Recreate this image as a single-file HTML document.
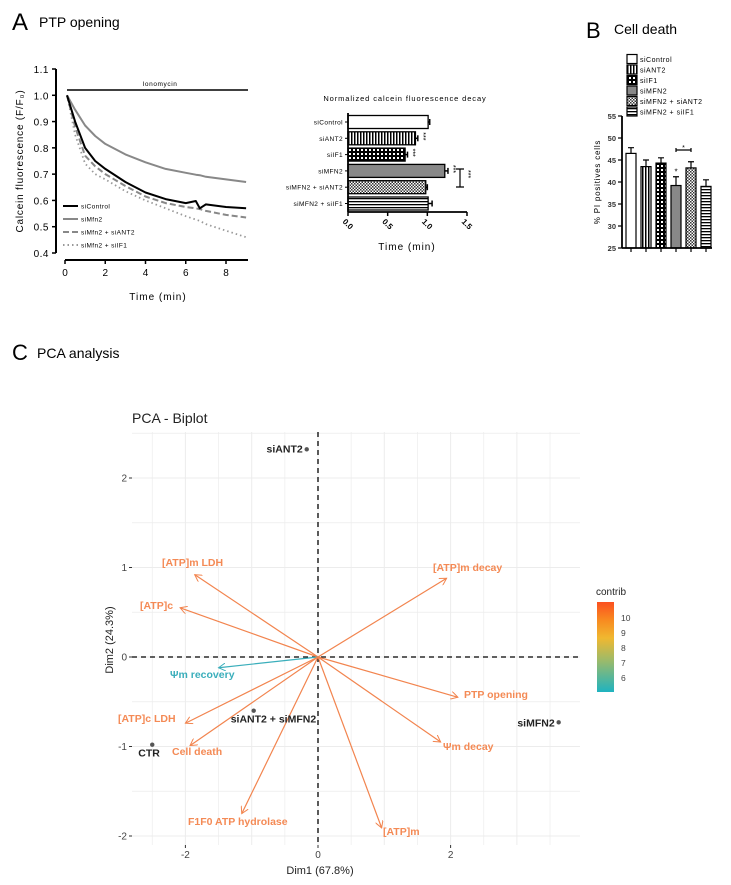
<!DOCTYPE html>
<html><head><meta charset="utf-8"><style>
body{margin:0;background:#fff;}
svg{display:block;font-family:"Liberation Sans",sans-serif;}
</style></head><body>
<svg id="s" width="731" height="885" viewBox="0 0 731 885">
<defs>
<pattern id="pv" width="3" height="4" patternUnits="userSpaceOnUse"><rect width="3" height="4" fill="#fff"/><rect width="1.5" height="4" fill="#000"/></pattern>
<pattern id="pg" width="4" height="4" patternUnits="userSpaceOnUse"><rect width="4" height="4" fill="#000"/><rect x="1" y="1" width="2" height="2" fill="#fff"/></pattern>
<pattern id="pc" width="3" height="3" patternUnits="userSpaceOnUse"><rect width="3" height="3" fill="#fff"/><rect width="1.5" height="1.5" fill="#333"/><rect x="1.5" y="1.5" width="1.5" height="1.5" fill="#333"/></pattern>
<pattern id="ph" width="4" height="3" patternUnits="userSpaceOnUse"><rect width="4" height="3" fill="#fff"/><rect width="4" height="1.3" fill="#000"/></pattern>
<linearGradient id="cg" x1="0" y1="1" x2="0" y2="0"><stop offset="0" stop-color="#1fb3c0"/><stop offset="0.35" stop-color="#9cba6a"/><stop offset="0.6" stop-color="#f0b830"/><stop offset="0.8" stop-color="#f88a20"/><stop offset="1" stop-color="#fb5020"/></linearGradient>
<marker id="ao" markerWidth="8" markerHeight="8" refX="7" refY="4" orient="auto" markerUnits="userSpaceOnUse"><path d="M0,0 L7,4 L0,8" fill="none" stroke="#f2844e" stroke-width="1"/></marker>
<marker id="at" markerWidth="8" markerHeight="8" refX="7" refY="4" orient="auto" markerUnits="userSpaceOnUse"><path d="M0,0 L7,4 L0,8" fill="none" stroke="#3aaebb" stroke-width="1"/></marker>
</defs>
<text x="12" y="30" font-size="24">A</text>
<text x="39" y="27" font-size="14">PTP opening</text>
<text x="586" y="38" font-size="22">B</text>
<text x="614" y="34" font-size="14">Cell death</text>
<text x="12" y="360" font-size="22">C</text>
<text x="37" y="358" font-size="14">PCA analysis</text>
<g id="lineChart"></g>
<g id="barChart"></g>
<g id="cellChart"></g>
<g id="pca"></g>
</svg>
<script>
// ---- Line chart data ----
const lcTimes=[0.1,0.5,1,1.5,2,3,4,5,6,6.5,6.7,7,8,9];
const lcControl=[1.0,0.9,0.8,0.75,0.72,0.67,0.63,0.605,0.59,0.598,0.57,0.585,0.575,0.57];
const lcMfn2=[1.0,0.945,0.885,0.845,0.815,0.775,0.745,0.72,0.705,0.698,0.696,0.69,0.68,0.67];
const lcAnt2=[1.0,0.88,0.77,0.73,0.70,0.655,0.615,0.59,0.575,0.57,0.567,0.56,0.545,0.535];
const lcIf1=[1.0,0.85,0.74,0.70,0.68,0.635,0.60,0.57,0.54,0.527,0.522,0.51,0.485,0.46];
const lcYTicks=[0.4,0.5,0.6,0.7,0.8,0.9,1.0,1.1];
const lcXTicks=[0,2,4,6,8];
// ---- Bar chart data ----
const bcCats=["siControl","siANT2","siIF1","siMFN2","siMFN2 + siANT2","siMFN2 + siIF1"];
const bcVals=[1.01,0.85,0.72,1.22,0.98,1.01];
const bcErr=[0.02,0.03,0.03,0.04,0.02,0.05];
const bcTicks=[0.0,0.5,1.0,1.5];
// ---- Cell death data ----
const cdCats=["siControl","siANT2","siIF1","siMFN2","siMFN2 + siANT2","siMFN2 + siIF1"];
const cdVals=[46.5,43.5,44.3,39.2,43.2,39.0];
const cdErr=[1.3,1.5,1.2,2.0,1.4,1.5];
const cdTicks=[25,30,35,40,45,50,55];
// ---- PCA data ----
const pcaInd=["siANT2","siMFN2","CTR","siANT2 + siMFN2"];
const pcaIndX=[-0.17,3.63,-2.5,-0.97];
const pcaIndY=[2.32,-0.73,-0.98,-0.6];
const pcaVar=["[ATP]m LDH","[ATP]c","[ATP]m decay","Ψm recovery","PTP opening","[ATP]c LDH","Cell death","Ψm decay","F1F0 ATP hydrolase","[ATP]m"];
const pcaVarX=[-1.86,-2.08,1.94,-1.5,2.11,-2.0,-1.93,1.85,-1.15,0.96];
const pcaVarY=[0.92,0.55,0.88,-0.12,-0.45,-0.74,-0.99,-0.95,-1.75,-1.91];
const pcaContrib=[9.5,9.3,10,5.5,9.8,9.6,9.7,9.5,9.4,9.6];
const pcaTicksX=[-2,0,2];
const pcaTicksY=[-2,-1,0,1,2];

const NS="http://www.w3.org/2000/svg";
function mk(parent,tag,attrs,txt){const e=document.createElementNS(NS,tag);for(const k in attrs)e.setAttribute(k,attrs[k]);if(txt!==undefined)e.textContent=txt;parent.appendChild(e);return e;}

// ===== Line chart =====
(function(){
const g=document.getElementById('lineChart');
const x=t=>65+t*(226-65)/8, y=v=>253-(v-0.4)*(253-69)/0.7;
let e=mk(g,'line',{x1:56,y1:69,x2:56,y2:253,stroke:'#000','stroke-width':2});

e=mk(g,'line',{x1:65,y1:260,x2:248,y2:260,stroke:'#000','stroke-width':2});

lcYTicks.forEach(v=>{mk(g,'line',{x1:52,y1:y(v),x2:56,y2:y(v),stroke:'#000','stroke-width':1.5});
 e=mk(g,'text',{x:49,y:y(v)+4,'font-size':10,'text-anchor':'end','letter-spacing':'0.5'},v.toFixed(1));
 });
lcXTicks.forEach(v=>{mk(g,'line',{x1:x(v),y1:260,x2:x(v),y2:264,stroke:'#000','stroke-width':1.5});
 e=mk(g,'text',{x:x(v),y:276,'font-size':10,'text-anchor':'middle'},v);
 });
e=mk(g,'text',{x:158,y:300,'font-size':10,'text-anchor':'middle','letter-spacing':'1'},'Time (min)');

e=mk(g,'text',{x:0,y:0,'font-size':10,'text-anchor':'middle','letter-spacing':'0.8',transform:'translate(23,161) rotate(-90)'},'Calcein fluorescence (F/F₀)');

mk(g,'line',{x1:67,y1:90,x2:248,y2:90,stroke:'#000','stroke-width':1.5});
e=mk(g,'text',{x:160,y:86,'font-size':6.5,'text-anchor':'middle','letter-spacing':'0.6'},'Ionomycin');

const series=[[lcMfn2,'#888',2,'','simfn2-line'],[lcIf1,'#999',1.8,'1.5 3','simfn2-siif1-line'],[lcAnt2,'#888',2,'6 3','simfn2-siant2-line'],[lcControl,'#000',2,'','sicontrol-line']];
series.forEach(s=>{const d=s[0].map((v,i)=>(i?'L':'M')+x(lcTimes[i]).toFixed(1)+','+y(v).toFixed(1)).join(' ');
 e=mk(g,'path',{d:d,fill:'none',stroke:s[1],'stroke-width':s[2],'stroke-dasharray':s[3],'stroke-linejoin':'round'});
 });
const leg=[['siControl','#000',''],['siMfn2','#888',''],['siMfn2 + siANT2','#888','6 3'],['siMfn2 + siIF1','#999','1.5 3']];
leg.forEach((l,i)=>{const yy=206+i*13;mk(g,'line',{x1:63,y1:yy,x2:78,y2:yy,stroke:l[1],'stroke-width':2,'stroke-dasharray':l[2]});
 e=mk(g,'text',{x:81,y:yy+2.5,'font-size':6.5,'letter-spacing':'0.4'},l[0]);
 });
})();

// ===== Bar chart =====
(function(){
const g=document.getElementById('barChart');
const x=v=>348+v*(467-348)/1.5, yc=i=>122+i*16.3;
let e=mk(g,'text',{x:405,y:101,'font-size':7.5,'text-anchor':'middle','letter-spacing':'0.9'},'Normalized calcein fluorescence decay');

const fills=['#fff','url(#pv)','url(#pg)','#888','url(#pc)','url(#ph)'];
bcCats.forEach((c,i)=>{
 e=mk(g,'rect',{x:348,y:yc(i)-6.5,width:x(bcVals[i])-348,height:13,fill:fills[i],stroke:'#000','stroke-width':1.3});
 
 mk(g,'line',{x1:x(bcVals[i]),y1:yc(i),x2:x(bcVals[i]+bcErr[i]),y2:yc(i),stroke:'#000','stroke-width':1.5});
 mk(g,'line',{x1:x(bcVals[i]+bcErr[i]),y1:yc(i)-3,x2:x(bcVals[i]+bcErr[i]),y2:yc(i)+3,stroke:'#000','stroke-width':1.5});
 mk(g,'line',{x1:345,y1:yc(i),x2:348,y2:yc(i),stroke:'#000'});
 e=mk(g,'text',{x:343,y:yc(i)+2.5,'font-size':6.5,'text-anchor':'end','letter-spacing':'0.4'},c);
 
});
[1,2,3].forEach(i=>{e=mk(g,'text',{x:0,y:0,'font-size':7,transform:'translate('+(x(bcVals[i]+bcErr[i])+3)+','+(yc(i)-6)+') rotate(90)'},'***');
 });
mk(g,'path',{d:'M456,169 H464 M460,169 V187 M456,187 H464',stroke:'#000',fill:'none','stroke-width':1.2});
e=mk(g,'text',{x:0,y:0,'font-size':7,transform:'translate(466,170) rotate(90)'},'***');

mk(g,'line',{x1:348,y1:113,x2:348,y2:212,stroke:'#000','stroke-width':1.8});
mk(g,'line',{x1:348,y1:212,x2:467,y2:212,stroke:'#000','stroke-width':1.8});
bcTicks.forEach(v=>{mk(g,'line',{x1:x(v),y1:212,x2:x(v),y2:216,stroke:'#000','stroke-width':1.5});
 e=mk(g,'text',{x:0,y:0,'font-size':8,'font-weight':'bold','text-anchor':'middle',transform:'translate('+(x(v)-2)+',226) rotate(45)'},v.toFixed(1));
 });
e=mk(g,'text',{x:407,y:250,'font-size':10,'text-anchor':'middle','letter-spacing':'1'},'Time (min)');

})();

// ===== Cell death =====
(function(){
const g=document.getElementById('cellChart');
const y=v=>248-(v-25)*(248-116)/30, xc=i=>631+i*15;
const fills=['#fff','url(#pv)','url(#pg)','#888','url(#pc)','url(#ph)'];
cdCats.forEach((c,i)=>{const ly=59+i*10.5;
 mk(g,'rect',{x:627,y:ly-4.5,width:10,height:9,fill:fills[i],stroke:'#000','stroke-width':1.2});
 let e=mk(g,'text',{x:640,y:ly+3,'font-size':7,'letter-spacing':'0.5'},c);
 
 e=mk(g,'rect',{x:xc(i)-5,y:y(cdVals[i]),width:10,height:248-y(cdVals[i]),fill:fills[i],stroke:'#000','stroke-width':1.2});
 
 mk(g,'path',{d:'M'+xc(i)+','+y(cdVals[i])+' V'+y(cdVals[i]+cdErr[i])+' M'+(xc(i)-3)+','+y(cdVals[i]+cdErr[i])+' H'+(xc(i)+3),stroke:'#000','stroke-width':1.2,fill:'none'});
 mk(g,'line',{x1:xc(i),y1:248,x2:xc(i),y2:252,stroke:'#000','stroke-width':1.2});
});
mk(g,'text',{x:xc(3),y:y(cdVals[3]+cdErr[3])-2,'font-size':8,'text-anchor':'middle'},'*');
mk(g,'path',{d:'M'+xc(3)+',148 V152 M'+xc(3)+',150 H'+xc(4)+' M'+xc(4)+',148 V152',stroke:'#000','stroke-width':1.2,fill:'none'});
mk(g,'text',{x:(xc(3)+xc(4))/2,y:150,'font-size':7,'text-anchor':'middle'},'*');
mk(g,'line',{x1:622,y1:116,x2:622,y2:248,stroke:'#000','stroke-width':1.8});
mk(g,'line',{x1:622,y1:248,x2:712,y2:248,stroke:'#000','stroke-width':1.8});
cdTicks.forEach(v=>{mk(g,'line',{x1:618,y1:y(v),x2:622,y2:y(v),stroke:'#000','stroke-width':1.2});
 let e=mk(g,'text',{x:616,y:y(v)+3,'font-size':7.5,'font-weight':'bold','text-anchor':'end','fill':'#333'},v);
 });
let e=mk(g,'text',{x:0,y:0,'font-size':8,'text-anchor':'middle','letter-spacing':'0.8',transform:'translate(600,182) rotate(-90)'},'% PI positives cells');

})();

// ===== PCA =====
(function(){
const g=document.getElementById('pca');
const x=v=>318+v*66.3, y=v=>657-v*89.5;
let e=mk(g,'text',{x:132,y:423,'font-size':14,fill:'#222'},'PCA - Biplot');

for(let v=-3;v<=3.5;v+=0.5){const px=x(v);if(px>132&&px<580)mk(g,'line',{x1:px,y1:432,x2:px,y2:845,stroke:'#ececec','stroke-width':Number.isInteger(v)?1:0.7});}
for(let v=-2.5;v<=2.5;v+=0.5){const py=y(v);if(py>432&&py<845)mk(g,'line',{x1:132,y1:py,x2:580,y2:py,stroke:'#ececec','stroke-width':Number.isInteger(v)?1:0.7});}
mk(g,'line',{x1:132,y1:y(0),x2:580,y2:y(0),stroke:'#000','stroke-width':1.3,'stroke-dasharray':'5 4'});
mk(g,'line',{x1:x(0),y1:432,x2:x(0),y2:845,stroke:'#000','stroke-width':1.3,'stroke-dasharray':'5 4'});
pcaTicksX.forEach(v=>{mk(g,'line',{x1:x(v),y1:845,x2:x(v),y2:848,stroke:'#333'});
 e=mk(g,'text',{x:x(v),y:858,'font-size':10,'text-anchor':'middle',fill:'#444'},v);
 });
pcaTicksY.forEach(v=>{mk(g,'line',{x1:129,y1:y(v),x2:132,y2:y(v),stroke:'#333'});
 e=mk(g,'text',{x:127,y:y(v)+3.5,'font-size':10,'text-anchor':'end',fill:'#444'},v);
 });
e=mk(g,'text',{x:320,y:874,'font-size':11,'text-anchor':'middle',fill:'#222'},'Dim1 (67.8%)');

e=mk(g,'text',{x:0,y:0,'font-size':11,'text-anchor':'middle',fill:'#222',transform:'translate(113,640) rotate(-90)'},'Dim2 (24.3%)');

const lab=[[162,566,'start'],[140,609,'start'],[433,571,'start'],[170,678,'start'],[464,698,'start'],[118,722,'start'],[172,755,'start'],[443,750,'start'],[188,825,'start'],[383,835,'start']];
pcaVar.forEach((n,i)=>{const teal=pcaContrib[i]<7;const col=teal?'#3aaebb':'#f2844e';
 e=mk(g,'line',{x1:x(0),y1:y(0),x2:x(pcaVarX[i]),y2:y(pcaVarY[i]),stroke:col,'stroke-width':1.2,'marker-end':teal?'url(#at)':'url(#ao)'});
 
 e=mk(g,'text',{x:lab[i][0],y:lab[i][1],'font-size':10.5,'font-weight':'bold',fill:teal?'#3aaebb':'#f48a55'},n);
 });
const il=[[-4,3,'end'],[-4,4,'end'],[-14,12,'start'],[-23,12,'start']];
pcaInd.forEach((n,i)=>{e=mk(g,'circle',{cx:x(pcaIndX[i]),cy:y(pcaIndY[i]),r:2.2,fill:'#555'});
 
 e=mk(g,'text',{x:x(pcaIndX[i])+il[i][0],y:y(pcaIndY[i])+il[i][1],'font-size':10.5,'font-weight':'bold','text-anchor':il[i][2],fill:'#222'},n);
 });
e=mk(g,'text',{x:596,y:595,'font-size':10,fill:'#222'},'contrib');

e=mk(g,'rect',{x:597,y:602,width:17,height:90,fill:'url(#cg)'});

[10,9,8,7,6].forEach((v,i)=>{e=mk(g,'text',{x:621,y:621+i*15,'font-size':8.5,fill:'#444'},v);
 });
})();
</script>
</body></html>
